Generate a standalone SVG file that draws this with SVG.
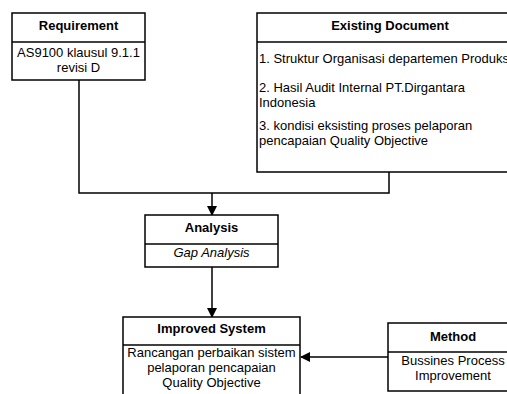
<svg xmlns="http://www.w3.org/2000/svg" width="507" height="394" viewBox="0 0 507 394">
<style>
.box{fill:#fff;stroke:#000;stroke-width:1.5}
.t{font-family:"Liberation Sans",Arial,sans-serif;font-size:13px;fill:#000}
.b{font-weight:bold;text-anchor:middle}
.c{text-anchor:middle}
.conn{fill:none;stroke:#000;stroke-width:1.5}
</style>
<defs>
<marker id="arr" markerWidth="10" markerHeight="10" refX="9" refY="5" orient="auto" markerUnits="userSpaceOnUse">
<path d="M0,0 L10,5 L0,10 Z" fill="#000"/>
</marker>
</defs>
<rect width="507" height="394" fill="#fff"/>
<g id="connectors">
<path class="conn" d="M79,80 V193 H389 V172"/>
<path class="conn" d="M212,193 V215" marker-end="url(#arr)"/>
<path class="conn" d="M212,267 V317" marker-end="url(#arr)"/>
<path class="conn" d="M388,357 H301" marker-end="url(#arr)"/>
</g>
<g id="requirement">
<rect class="box" x="12" y="13" width="133" height="67"/>
<line class="box" x1="12" y1="42" x2="145" y2="42"/>
<text class="t b" x="78.5" y="30">Requirement</text>
<text class="t c" x="78.5" y="57">AS9100 klausul 9.1.1</text>
<text class="t c" x="78.5" y="72">revisi D</text>
</g>
<g id="existing">
<rect class="box" x="257" y="13" width="265" height="159"/>
<line class="box" x1="257" y1="42" x2="522" y2="42"/>
<text class="t b" x="390" y="30">Existing Document</text>
<text class="t" x="259" y="63">1. Struktur Organisasi departemen Produksi</text>
<text class="t" x="259" y="92">2. Hasil Audit Internal PT.Dirgantara</text>
<text class="t" x="259" y="107">Indonesia</text>
<text class="t" x="259" y="130">3. kondisi eksisting proses pelaporan</text>
<text class="t" x="259" y="145">pencapaian Quality Objective</text>
</g>
<g id="analysis">
<rect class="box" x="145" y="215" width="133" height="52"/>
<line class="box" x1="145" y1="244" x2="278" y2="244"/>
<text class="t b" x="211.5" y="232">Analysis</text>
<text class="t c" x="211.5" y="257" font-style="italic">Gap Analysis</text>
</g>
<g id="improved">
<rect class="box" x="123" y="317" width="177" height="90"/>
<line class="box" x1="123" y1="345" x2="300" y2="345"/>
<text class="t b" x="211.5" y="333">Improved System</text>
<text class="t c" x="211.5" y="357">Rancangan perbaikan sistem</text>
<text class="t c" x="211.5" y="372">pelaporan pencapaian</text>
<text class="t c" x="211.5" y="387">Quality Objective</text>
</g>
<g id="method">
<rect class="box" x="388" y="323" width="130" height="68"/>
<line class="box" x1="388" y1="352" x2="518" y2="352"/>
<text class="t b" x="453" y="341">Method</text>
<text class="t c" x="453" y="365">Bussines Process</text>
<text class="t c" x="453" y="380">Improvement</text>
</g>
</svg>
